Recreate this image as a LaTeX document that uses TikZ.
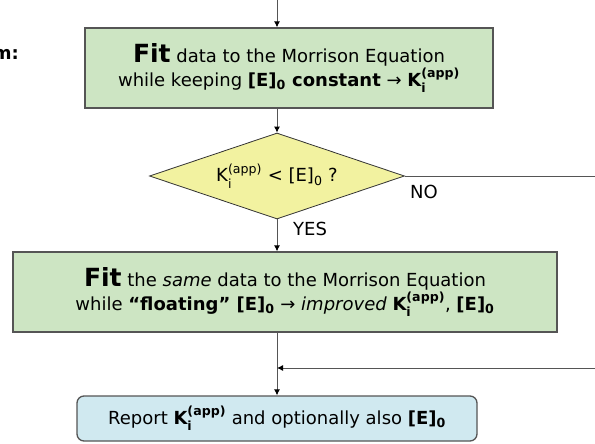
\documentclass[tikz,border=0pt]{standalone}
\usepackage{amsmath}
\usepackage{fontspec}
\setmainfont{DejaVu Sans}
\usetikzlibrary{shapes.geometric,arrows.meta}
\definecolor{fitgreen}{RGB}{205,229,195}
\definecolor{askyellow}{RGB}{242,242,160}
\definecolor{reportblue}{RGB}{208,233,240}
\definecolor{edgegray}{RGB}{85,85,85}
\newcommand{\Kapp}{K$_{\text{i}}^{\text{(app)}}$}
\newcommand{\Ezero}{[E]$_{\text{0}}$}
\newcommand{\Fit}{{\fontsize{25}{24}\selectfont\bfseries Fit}}

\begin{document}
\begin{tikzpicture}[
  x=1pt, y=-1pt,
  % Global text styling
  every node/.style={font=\fontsize{18}{24}\selectfont, align=center, inner sep=0pt},
  % Box styles
  fitbox/.style={draw=edgegray, line width=1.3pt, fill=fitgreen, minimum height=80pt},
  askbox/.style={diamond, aspect=2.97, draw=black!80, line width=0.8pt, fill=askyellow, minimum width=255pt, minimum height=86pt},
  reportbox/.style={draw=edgegray, line width=1.3pt, rounded corners=7pt, fill=reportblue, minimum width=400pt, minimum height=45pt},
  flow/.style={draw=edgegray, line width=0.9pt, -{Latex[length=6pt,width=6pt,black]}},
  plain/.style={draw=edgegray, line width=0.9pt}
]
\useasboundingbox (0,0) rectangle (595,444);

% Cut-off heading on the left
\node[anchor=base east, font=\fontsize{18}{24}\selectfont\bfseries] (head) at (19,60) {m:};

% Main column
\node[fitbox, minimum width=408pt] (fitA) at (289,68)
  {\Fit{} data to the Morrison Equation\\
   while keeping \textbf{\Ezero{} constant} → \textbf{\Kapp}};
\node[askbox] (ask) at (277,176) {\Kapp{} < \Ezero{} ?};
\node[fitbox, minimum width=544pt] (fitB) at (285,292)
  {\Fit{} the \textit{same} data to the Morrison Equation\\
   while \textbf{“floating” \Ezero} → \textit{improved} \textbf{\Kapp}, \textbf{\Ezero}};
\node[reportbox] (report) at (277,418.5)
  {Report \textbf{\Kapp} and optionally also \textbf{\Ezero}};

% Free ends of connectors
\coordinate (entry) at (277,0);
\coordinate (noend) at (595,176);
\coordinate (backin) at (595,368);
\coordinate (join) at (277,368);

% Connectors
\draw[flow] (entry) -- (entry |- fitA.north);
\draw[flow] (entry |- fitA.south) -- (ask.north);
\draw[flow] (ask.south) -- (fitB.north -| ask.south);
\draw[flow] (fitB.south -| ask.south) -- (report.north);
\draw[plain] (ask.east) -- (noend);
\draw[flow] (backin) -- (join);

% Branch labels
\node[anchor=base west] (no) at (410,198) {NO};
\node[anchor=base west] (yes) at (293,235) {YES};
\end{tikzpicture}
\end{document}
